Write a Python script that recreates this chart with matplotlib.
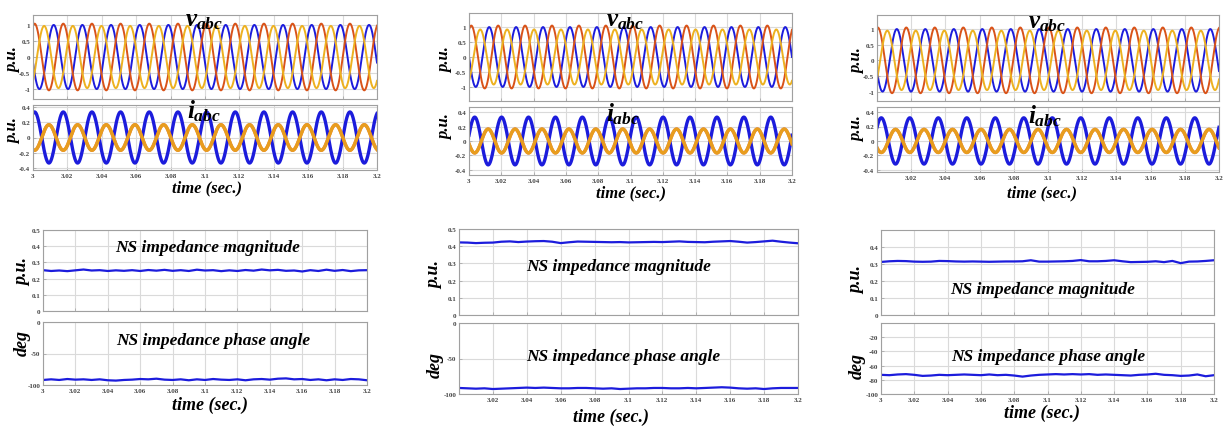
import numpy as np
import matplotlib.pyplot as plt

W, H = 1225, 431

plt.rcParams['mathtext.fontset'] = 'custom'
plt.rcParams['mathtext.it'] = 'Liberation Serif:italic:bold'
plt.rcParams['mathtext.rm'] = 'Liberation Serif:bold'
plt.rcParams['axes.unicode_minus'] = False

SERIF = 'Liberation Serif'
BLUE = '#1c1cdc'
ORANGE = '#d95319'
YELLOW = '#edb120'

# --- waveforms (60 Hz) -------------------------
f_grid = 60.0
t_start, t_end = 3.0, 3.2
# voltage amplitude for phases a (blue), b (orange), c (yellow)
v_amp = [[1.0, 1.04, 0.97], [1.0, 1.05, 0.92], [1.0, 1.05, 0.95]]
# phase of b at t = 3 s (deg); a leads by 120, c lags by 120
v_phase_b = [-20, -30, -10]
# current amplitude of phase a, phases b and c carry half of it in antiphase
i_amp = [0.33, 0.33, 0.32]
i_phase_a = [-20, -76, -54]

# --- negative-sequence impedance, sampled every 5 ms ----------------------
t_z = np.linspace(3.0, 3.2, 41)
mag_left = [0.252, 0.247, 0.250, 0.246, 0.251, 0.256, 0.250, 0.252, 0.247, 0.251,
            0.248, 0.252, 0.247, 0.253, 0.249, 0.254, 0.248, 0.252, 0.247, 0.255,
            0.250, 0.252, 0.246, 0.251, 0.247, 0.253, 0.249, 0.256, 0.251, 0.254,
            0.248, 0.250, 0.244, 0.252, 0.247, 0.255, 0.248, 0.253, 0.246, 0.251, 0.252]
ph_left = [-92, -91, -92, -90.5, -91.5, -91, -92, -91, -92.5, -93,
           -92, -91.5, -90.5, -91, -90, -91.5, -92, -91, -92.5, -91,
           -92, -90.5, -91.5, -92, -91, -92.5, -91, -90.5, -91.5, -90,
           -89.5, -91, -90.5, -92, -91, -92.5, -91, -92, -90.5, -91, -92.5]
mag_mid = [0.422, 0.421, 0.418, 0.420, 0.421, 0.426, 0.428, 0.424, 0.427, 0.429,
           0.430, 0.426, 0.418, 0.423, 0.427, 0.426, 0.425, 0.424, 0.423, 0.424,
           0.422, 0.423, 0.424, 0.425, 0.424, 0.426, 0.428, 0.425, 0.424, 0.423,
           0.426, 0.428, 0.430, 0.426, 0.421, 0.424, 0.428, 0.432, 0.426, 0.421, 0.417]
ph_mid = [-91.5, -92, -92.5, -92, -93, -92.5, -92, -91.5, -91, -91.5,
          -91, -91.5, -92, -92, -91.5, -91.5, -92, -92.5, -92, -93,
          -92.5, -92, -92, -91.5, -91.5, -92, -92, -91.5, -92, -91.5,
          -91, -90.5, -91, -92, -92.5, -92, -93, -92, -91.5, -91.5, -91.5]
mag_right = [0.312, 0.316, 0.318, 0.317, 0.314, 0.313, 0.314, 0.318, 0.317, 0.315,
             0.314, 0.315, 0.314, 0.313, 0.314, 0.315, 0.315, 0.316, 0.322, 0.314,
             0.314, 0.315, 0.316, 0.318, 0.323, 0.316, 0.316, 0.318, 0.322, 0.316,
             0.311, 0.312, 0.313, 0.316, 0.311, 0.318, 0.305, 0.314, 0.315, 0.318, 0.322]
ph_right = [-73, -73.5, -72.5, -72, -73, -74.5, -74, -73, -73.5, -73,
            -72.5, -73, -73.5, -72.5, -73.5, -73, -74, -75.5, -74, -73,
            -72.5, -72, -72.5, -72, -72.5, -72, -73, -72.5, -73, -73.5,
            -74, -73, -72.5, -71.5, -73, -73.5, -74.5, -74, -72.5, -75, -73.5]

mags = [mag_left, mag_mid, mag_right]
phases = [ph_left, ph_mid, ph_right]

xticks = [3.0, 3.02, 3.04, 3.06, 3.08, 3.1, 3.12, 3.14, 3.16, 3.18, 3.2]

# pixel boxes (x0, y0, x1, y1) of every axes
boxes = {
    'v':   [(33, 16, 377, 100), (469, 14, 792, 102), (877, 16, 1219, 102)],
    'i':   [(33, 106, 377, 171), (469, 108, 792, 176), (877, 108, 1219, 173)],
    'mag': [(43, 231, 367, 312), (459, 230, 798, 316), (881, 231, 1214, 316)],
    'ph':  [(43, 323, 367, 386), (459, 324, 798, 395), (881, 324, 1214, 395)],
}
v_ylim = [(-1.31, 1.31), (-1.47, 1.47), (-1.3, 1.45)]
i_ylim = [(-0.42, 0.42), (-0.47, 0.47), (-0.43, 0.47)]
mag_yticks = [[0, 0.1, 0.2, 0.3, 0.4, 0.5], [0, 0.1, 0.2, 0.3, 0.4, 0.5], [0, 0.1, 0.2, 0.3, 0.4]]
ph_yticks = [[-100, -50, 0], [-100, -50, 0], [-100, -80, -60, -40, -20]]
# whether the '3' label is shown under i_abc / phase axes
i_first = [True, True, False]
ph_first = [True, False, True]


def px(x, y):
    return x / W, 1 - y / H


def make_ax(fig, box):
    x0, y0, x1, y1 = box
    ax = fig.add_axes([x0 / W, 1 - y1 / H, (x1 - x0) / W, (y1 - y0) / H])
    ax.set_xlim(t_start, t_end)
    ax.set_xticks(xticks)
    ax.grid(True, color='#dadada', lw=0.8)
    ax.set_axisbelow(True)
    for s in ax.spines.values():
        s.set_color('#a0a0a0')
        s.set_linewidth(0.8)
    ax.tick_params(length=2, width=0.5, color='#a0a0a0', direction='in', pad=2,
                   labelsize=5, labelcolor='#444444')
    return ax


def set_xlabels(ax, show_first):
    labs = ['%g' % v for v in xticks]
    if not show_first:
        labs[0] = ''
    ax.set_xticklabels(labs, fontfamily=SERIF, fontweight='bold')


def set_ylabels(ax, ticks):
    ax.set_yticks(ticks)
    ax.set_yticklabels(['%g' % v for v in ticks], fontfamily=SERIF, fontweight='bold')


def label(fig, x, y, s, size, rot=0):
    fig.text(*px(x, y), s, fontsize=size, rotation=rot, ha='center', va='center',
             fontfamily=SERIF, fontweight='bold', fontstyle='italic')


fig = plt.figure(figsize=(W / 100, H / 100), dpi=100)
t = np.linspace(t_start, t_end, 3001)
w = 2 * np.pi * f_grid * (t - t_start)

for k in range(3):
    # voltages
    ax = make_ax(fig, boxes['v'][k])
    pb = np.radians(v_phase_b[k])
    ax.plot(t, v_amp[k][0] * np.cos(w + pb + 2 * np.pi / 3), color=BLUE, lw=1.4)
    ax.plot(t, v_amp[k][1] * np.cos(w + pb), color=ORANGE, lw=1.4)
    ax.plot(t, v_amp[k][2] * np.cos(w + pb - 2 * np.pi / 3), color=YELLOW, lw=1.4)
    ax.set_ylim(*v_ylim[k])
    set_ylabels(ax, [-1, -0.5, 0, 0.5, 1])
    ax.tick_params(labelbottom=False)

    # currents
    ax = make_ax(fig, boxes['i'][k])
    ia = i_amp[k] * np.cos(w + np.radians(i_phase_a[k]))
    ax.plot(t, ia, color=BLUE, lw=2.4)
    ax.plot(t, -0.5 * ia, color=ORANGE, lw=2.4)
    ax.plot(t, -0.5 * ia, color=YELLOW, lw=2.4, alpha=0.8)
    ax.set_ylim(*i_ylim[k])
    set_ylabels(ax, [-0.4, -0.2, 0, 0.2, 0.4])
    set_xlabels(ax, i_first[k])

    # NS impedance magnitude
    ax = make_ax(fig, boxes['mag'][k])
    ax.plot(t_z, mags[k], color=BLUE, lw=1.6)
    ax.set_ylim(0, 0.5)
    set_ylabels(ax, mag_yticks[k])
    ax.tick_params(labelbottom=False)

    # NS impedance phase angle
    ax = make_ax(fig, boxes['ph'][k])
    ax.plot(t_z, phases[k], color=BLUE, lw=1.6)
    ax.set_ylim(-100, 0)
    set_ylabels(ax, ph_yticks[k])
    set_xlabels(ax, ph_first[k])

# titles inside/above the waveform axes
for x, y in [(204, 21), (625, 21), (1047, 23)]:
    label(fig, x, y, r'$v_{abc}$', 18)
for x, y in [(204, 111), (623, 114), (1045, 116)]:
    label(fig, x, y, r'$i_{abc}$', 18)

# y labels
for x, y in [(13, 60), (445, 60), (857, 61)]:
    label(fig, x, y, 'p.u.', 12, 90)
for x, y in [(13, 131), (445, 127), (857, 129)]:
    label(fig, x, y, 'p.u.', 12, 90)
for x, y in [(23, 272), (435, 275), (857, 280)]:
    label(fig, x, y, 'p.u.', 13, 90)
for x, y in [(22, 343), (435, 365), (857, 366)]:
    label(fig, x, y, 'deg', 13, 90)

# x labels
for x, y in [(207, 188), (631, 193), (1042, 193)]:
    label(fig, x, y, 'time (sec.)', 12)
for x, y in [(210, 405), (611, 417), (1042, 413)]:
    label(fig, x, y, 'time (sec.)', 13)

# panel annotations
for x, y in [(208, 248), (619, 267), (1043, 290)]:
    label(fig, x, y, 'NS impedance magnitude', 12.5)
for x, y in [(213, 341), (623, 357), (1048, 357)]:
    label(fig, x, y, 'NS impedance phase angle', 12.5)

fig.savefig('out.png', dpi=100)
